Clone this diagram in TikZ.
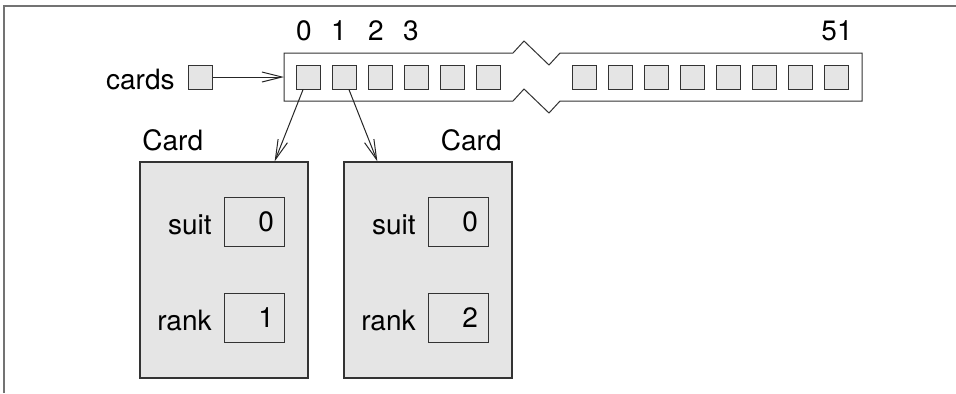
\documentclass[tikz,border=0pt]{standalone}
\usepackage{fontspec}
\setmainfont{TeX Gyre Heros}
\usepackage{tikz}
\usetikzlibrary{arrows.meta}

\begin{document}
\begin{tikzpicture}[
			x=0.5pt, y=-0.5pt,
			font=\fontsize{14}{16}\selectfont,
			cell/.style={rectangle, draw=black!80, fill=black!10, line width=0.5pt, minimum size=12pt, inner sep=0pt},
			obj/.style={rectangle, draw=black!80, fill=black!10, line width=0.6pt, minimum width=84pt, minimum height=108pt},
			val/.style={rectangle, draw=black!80, fill=black!10, line width=0.5pt, minimum width=30pt, minimum height=24.5pt, text width=20pt, inner xsep=5pt, align=right},
			txt/.style={inner sep=0pt},
			arrow/.style={-{Straight Barb[length=10pt,width=5pt]}, line width=0.5pt, black!85}
		]

		\useasboundingbox (0,0) rectangle (956,393);
		\draw[black!55, line width=1pt] (3.5,393) -- (3.5,5.5) -- (956,5.5);

		% Variable
		\node[txt, anchor=base east] (cardslbl) at (175,89) {cards};
		\node[cell] (cardsvar) at (200.5,77) {};

		% Array
		\draw[draw=black!80, fill=white, line width=0.5pt] (284,53) -- (513,53) -- (524,41) -- (549,65) -- (560,53) -- (862,53)
			-- (862,101) -- (560,101) -- (549,113) -- (524,89) -- (513,101) -- (284,101) -- cycle;
		\coordinate (arr) at (284,77);
		\node[cell] (c0) at (308,77) {};
		\node[cell] (c1) at (344,77) {};
		\node[cell] (c2) at (380,77) {};
		\node[cell] (c3) at (416,77) {};
		\node[cell] (c4) at (452,77) {};
		\node[cell] (c5) at (488,77) {};
		\node[cell] (c44) at (584,77) {};
		\node[cell] (c45) at (620,77) {};
		\node[cell] (c46) at (656,77) {};
		\node[cell] (c47) at (692,77) {};
		\node[cell] (c48) at (728,77) {};
		\node[cell] (c49) at (764,77) {};
		\node[cell] (c50) at (800,77) {};
		\node[cell] (c51) at (836,77) {};

		% Indices
		\node[txt, anchor=base] (i0) at (304,40) {0};
		\node[txt, anchor=base] (i1) at (339,40) {1};
		\node[txt, anchor=base] (i2) at (376,40) {2};
		\node[txt, anchor=base] (i3) at (411,40) {3};
		\node[txt, anchor=base] (i51) at (837,40) {51};

		% Card 1
		\node[txt, anchor=base west] (lblA) at (142,150) {Card};
		\node[obj] (cardA) at (224,270) {};
		\node[txt, anchor=base east] (suitA) at (212,234) {suit};
		\node[val] (suitAval) at (254,221.5) {0};
		\node[txt, anchor=base east] (rankA) at (212,330) {rank};
		\node[val] (rankAval) at (254,317.5) {1};

		% Card 2
		\node[txt, anchor=base east] (lblB) at (502,150) {Card};
		\node[obj] (cardB) at (428,270) {};
		\node[txt, anchor=base east] (suitB) at (416,234) {suit};
		\node[val] (suitBval) at (458,221.5) {0};
		\node[txt, anchor=base east] (rankB) at (416,330) {rank};
		\node[val] (rankBval) at (458,317.5) {2};

		% Arrows
		\draw[arrow] (cardsvar) -- (arr);
		\draw[arrow] (c0) -- (cardA.65);
		\draw[arrow] (c1) -- (cardB.115);

	\end{tikzpicture}
\end{document}
